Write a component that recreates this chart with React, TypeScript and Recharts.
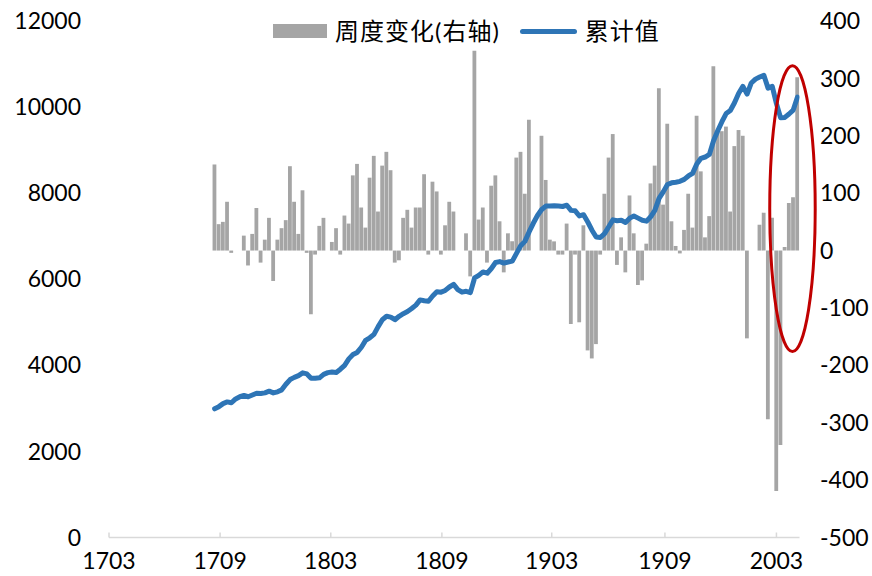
import React from 'react';
import { ComposedChart, Bar, Line, XAxis, YAxis, ReferenceArea } from 'recharts';

// Weekly change (right axis); null = holiday weeks with no reading
const WEEKLY_CHANGE: (number | null)[] = [
  150, 46, 50, 85, -4, null, null, 26, -26, 29,
  74, -21, 19, 57, -53, 19, 39, 53, 147, 85,
  29, 105, -4, -111, -7, 43, 57, null, 15, 39,
  -7, 61, 47, 131, 151, 75, 40, 127, 165, 68,
  148, 172, 140, -21, -17, 57, 71, 40, 75, 75,
  133, -7, 120, 103, -7, 44, 85, 68, null, null,
  30, -45, 348, 54, 75, -21, 113, 131, 51, -38,
  30, 16, 162, 172, 99, 228, null, null, 200, 123,
  19, 16, -7, -7, 47, -128, -7, -125, 44, -174,
  -188, -163, -7, 99, 162, 203, -25, 23, -38, 96,
  30, -60, -52, 12, 117, 148, 283, 80, 221, 51,
  8, -5, 36, 99, 40, 235, 138, 23, 60, 321,
  206, 208, 216, 68, 182, 210, 200, -153, null, null,
  45, 66, -294, 57, -419, -339, 6, 83, 93, 302,
];

// Cumulative level (left axis)
const CUMULATIVE: number[] = [
  2990, 3040, 3110, 3150, 3130, 3220, 3270, 3300, 3270, 3310,
  3350, 3345, 3360, 3400, 3360, 3385, 3430, 3560, 3670, 3720,
  3760, 3825, 3800, 3700, 3700, 3710, 3790, 3830, 3845, 3835,
  3910, 4000, 4150, 4250, 4300, 4420, 4580, 4640, 4720, 4900,
  5060, 5140, 5120, 5060, 5140, 5200, 5250, 5320, 5400, 5520,
  5500, 5490, 5610, 5710, 5700, 5740, 5820, 5880, 5760, 5700,
  5720, 5690, 6030, 6090, 6170, 6140, 6250, 6390, 6410, 6375,
  6400, 6420, 6600, 6780, 6880, 7100, 7300, 7480, 7620, 7700,
  7700, 7710, 7700, 7690, 7720, 7600, 7590, 7470, 7500, 7330,
  7140, 6980, 6970, 7060, 7220, 7380, 7360, 7370, 7320, 7420,
  7470, 7420, 7370, 7350, 7450, 7600, 7880, 8030, 8200, 8240,
  8255, 8275, 8320, 8400, 8460, 8680, 8810, 8840, 8900, 9220,
  9450, 9660, 9850, 9920, 10100, 10320, 10480, 10300, 10560, 10650,
  10700, 10740, 10440, 10480, 10080, 9750, 9760, 9840, 9930, 10230,
];

// Month labels (YYMM) and the week positions where those months begin
const TICK_LABELS = ['1703', '1709', '1803', '1809', '1903', '1909', '2003'];
const TICK_WEEKS = [-25.2, 1.3, 27.7, 54.2, 80.4, 107.4, 134.0];
const WEEK_DOMAIN: [number, number] = [-25.2, 139.5];

const LEFT_TICKS = [0, 2000, 4000, 6000, 8000, 10000, 12000];
const RIGHT_TICKS = [-500, -400, -300, -200, -100, 0, 100, 200, 300, 400];

const CHANGE_NAME = '周度变化(右轴)';
const TOTAL_NAME = '累计值';

// Highlighted recent stretch (week range / right-axis range)
const HIGHLIGHT = { x1: 132.4, x2: 143.25, y1: -176, y2: 322 };

const data = WEEKLY_CHANGE.map((change, week) => ({
  week,
  change,
  total: CUMULATIVE[week],
}));

const FONT = "Lato, 'Noto Sans CJK SC', sans-serif";
const BAR_COLOR = '#A5A5A5';
const LINE_COLOR = '#2E75B6';
const AXIS_COLOR = '#D9D9D9';
const X_TICK_MARGIN = 23;

const XTick = (props: any) => {
  const { x, y, payload } = props;
  const axisY = y - X_TICK_MARGIN;
  const idx = TICK_WEEKS.indexOf(payload.value);
  return (
    <g>
      <line x1={x} x2={x} y1={axisY} y2={axisY - 5} stroke={AXIS_COLOR} strokeWidth={1.5} />
      <text
        x={x}
        y={y}
        dy="0.36em"
        textAnchor="middle"
        fill="#000"
        fontSize={23}
        fontFamily={FONT}
      >
        {idx >= 0 ? TICK_LABELS[idx] : ''}
      </text>
    </g>
  );
};

const EllipseShape = (props: any) => {
  const { x, y, width, height } = props;
  return (
    <ellipse
      cx={x + width / 2}
      cy={y + height / 2}
      rx={Math.abs(width) / 2}
      ry={Math.abs(height) / 2}
      fill="none"
      stroke="#C00000"
      strokeWidth={3}
    />
  );
};

const LegendOverlay = () => (
  <div
    style={{
      position: 'absolute',
      left: 273,
      top: 14,
      display: 'flex',
      alignItems: 'center',
      height: 34,
      fontFamily: FONT,
      fontSize: 24,
      letterSpacing: 1,
      color: '#000',
      whiteSpace: 'nowrap',
      lineHeight: '34px',
    }}
  >
    <span style={{ display: 'inline-block', width: 54, height: 14, background: BAR_COLOR }} />
    <span style={{ marginLeft: 8 }}>{CHANGE_NAME}</span>
    <span
      style={{
        display: 'inline-block',
        width: 57,
        height: 5,
        borderRadius: 3,
        background: LINE_COLOR,
        marginLeft: 20,
      }}
    />
    <span style={{ marginLeft: 8 }}>{TOTAL_NAME}</span>
  </div>
);

export default function App() {
  return (
    <div style={{ position: 'absolute', left: 0, top: 0, width: 872, height: 576, background: '#fff' }}>
      <ComposedChart
        width={872}
        height={576}
        data={data}
        margin={{ top: 21, right: 12.5, bottom: 8.5, left: 49 }}
      >
        <XAxis
          dataKey="week"
          type="number"
          domain={WEEK_DOMAIN}
          allowDataOverflow
          ticks={TICK_WEEKS}
          interval={0}
          height={30}
          tickSize={0}
          tickMargin={X_TICK_MARGIN}
          tickLine={false}
          axisLine={{ stroke: AXIS_COLOR, strokeWidth: 1.5 }}
          tick={<XTick />}
        />
        <YAxis
          yAxisId="left"
          orientation="left"
          domain={[0, 12000]}
          ticks={LEFT_TICKS}
          interval={0}
          width={60}
          axisLine={false}
          tickLine={false}
          tickSize={0}
          tickMargin={28}
          tick={{ fontSize: 23, fill: '#000', fontFamily: FONT }}
        />
        <YAxis
          yAxisId="right"
          orientation="right"
          domain={[-500, 400]}
          ticks={RIGHT_TICKS}
          interval={0}
          width={60}
          axisLine={false}
          tickLine={false}
          tickSize={0}
          tickMargin={20.5}
          tick={{ fontSize: 23, fill: '#000', fontFamily: FONT, textAnchor: 'start' }}
        />
        <Bar
          yAxisId="right"
          dataKey="change"
          name={CHANGE_NAME}
          fill={BAR_COLOR}
          barSize={3.8}
          isAnimationActive={false}
        />
        <Line
          yAxisId="left"
          dataKey="total"
          name={TOTAL_NAME}
          type="linear"
          stroke={LINE_COLOR}
          strokeWidth={5}
          strokeLinejoin="round"
          strokeLinecap="round"
          dot={false}
          activeDot={false}
          isAnimationActive={false}
        />
        <ReferenceArea
          yAxisId="right"
          x1={HIGHLIGHT.x1}
          x2={HIGHLIGHT.x2}
          y1={HIGHLIGHT.y1}
          y2={HIGHLIGHT.y2}
          ifOverflow="visible"
          shape={<EllipseShape />}
          {...({ zIndex: 1000 } as any)}
        />
      </ComposedChart>
      <LegendOverlay />
    </div>
  );
}
